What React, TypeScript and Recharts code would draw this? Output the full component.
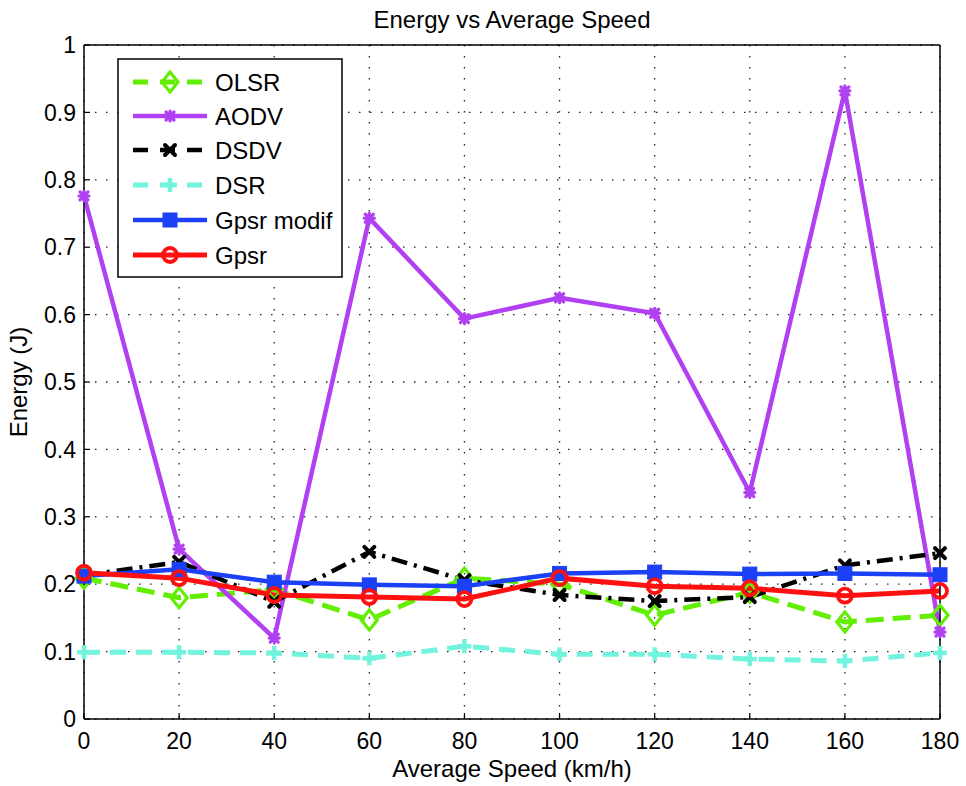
import { LineChart, Line, XAxis, YAxis, CartesianGrid } from 'recharts';

const speeds = [0, 20, 40, 60, 80, 100, 120, 140, 160, 180];
const olsr = [0.209, 0.18, 0.192, 0.147, 0.209, 0.2, 0.154, 0.188, 0.144, 0.154];
const aodv = [0.776, 0.252, 0.12, 0.743, 0.594, 0.625, 0.602, 0.336, 0.932, 0.129];
const dsdv = [0.213, 0.233, 0.174, 0.248, 0.206, 0.184, 0.175, 0.181, 0.228, 0.246];
const dsr = [0.099, 0.099, 0.098, 0.09, 0.108, 0.096, 0.096, 0.089, 0.086, 0.098];
const gpsrModif = [0.212, 0.222, 0.203, 0.199, 0.197, 0.216, 0.218, 0.215, 0.216, 0.214];
const gpsr = [0.217, 0.209, 0.184, 0.181, 0.178, 0.209, 0.197, 0.194, 0.183, 0.19];

const xTicks = [0, 20, 40, 60, 80, 100, 120, 140, 160, 180];
const yTicks = [0, 0.1, 0.2, 0.3, 0.4, 0.5, 0.6, 0.7, 0.8, 0.9, 1];

const data = speeds.map((s, i) => ({
  speed: s,
  olsr: olsr[i],
  aodv: aodv[i],
  dsdv: dsdv[i],
  dsr: dsr[i],
  gpsrModif: gpsrModif[i],
  gpsr: gpsr[i],
}));

const FONT = '"Liberation Sans", Arial, Helvetica, sans-serif';

type Kind = 'diamond' | 'star' | 'x' | 'plus' | 'square' | 'circle';

const series: { key: string; name: string; color: string; width: number; dash?: string; marker: Kind }[] = [
  { key: 'olsr', name: 'OLSR', color: '#62ee00', width: 5, dash: '18 9', marker: 'diamond' },
  { key: 'aodv', name: 'AODV', color: '#b040f2', width: 4.5, marker: 'star' },
  { key: 'dsdv', name: 'DSDV', color: '#000000', width: 4.5, dash: '16 7 3 7', marker: 'x' },
  { key: 'dsr', name: 'DSR', color: '#72f3dd', width: 5, dash: '16 10', marker: 'plus' },
  { key: 'gpsrModif', name: 'Gpsr modif', color: '#1c40f6', width: 4.5, marker: 'square' },
  { key: 'gpsr', name: 'Gpsr', color: '#ff1010', width: 5, marker: 'circle' },
];

function Marker({ kind, cx, cy, color }: { kind: Kind; cx: number; cy: number; color: string }) {
  if (cx == null || cy == null) return null;
  const common = { stroke: color, strokeDasharray: 'none', strokeLinecap: 'round' as const };
  switch (kind) {
    case 'diamond':
      return (
        <path
          d={`M${cx},${cy - 10} L${cx + 8},${cy} L${cx},${cy + 10} L${cx - 8},${cy} Z`}
          fill="none"
          strokeWidth={3.2}
          {...common}
        />
      );
    case 'star':
      return (
        <g {...common} strokeWidth={3.2}>
          <line x1={cx - 5} y1={cy} x2={cx + 5} y2={cy} />
          <line x1={cx} y1={cy - 5} x2={cx} y2={cy + 5} />
          <line x1={cx - 4} y1={cy - 4} x2={cx + 4} y2={cy + 4} />
          <line x1={cx - 4} y1={cy + 4} x2={cx + 4} y2={cy - 4} />
        </g>
      );
    case 'x':
      return (
        <g {...common} strokeWidth={4}>
          <line x1={cx - 5} y1={cy - 5} x2={cx + 5} y2={cy + 5} />
          <line x1={cx - 5} y1={cy + 5} x2={cx + 5} y2={cy - 5} />
        </g>
      );
    case 'plus':
      return (
        <g {...common} strokeWidth={4.5} strokeLinecap="butt">
          <line x1={cx - 7} y1={cy} x2={cx + 7} y2={cy} />
          <line x1={cx} y1={cy - 7} x2={cx} y2={cy + 7} />
        </g>
      );
    case 'square':
      return <rect x={cx - 7} y={cy - 7} width={14} height={14} fill={color} stroke={color} strokeWidth={1} />;
    case 'circle':
      return <circle cx={cx} cy={cy} r={7} fill="none" stroke={color} strokeWidth={3.8} />;
  }
  return null;
}

function LegendBox() {
  const rows = [23, 57, 91, 126, 161, 196];
  return (
    <svg
      width={226}
      height={220}
      style={{ position: 'absolute', left: 117, top: 58 }}
    >
      <rect x={1} y={1} width={224} height={218} fill="#fff" stroke="#000" strokeWidth={1.5} />
      {series.map((s, i) => (
        <g key={s.key}>
          <line
            x1={16}
            x2={90}
            y1={rows[i] + 1}
            y2={rows[i] + 1}
            stroke={s.color}
            strokeWidth={s.width}
            strokeDasharray={s.dash ? '15 12' : undefined}
          />
          <Marker kind={s.marker} cx={53} cy={rows[i] + 1} color={s.color} />
          <text x={98} y={rows[i] + 9.5} fontSize={24} fontFamily={FONT} fill="#000">
            {s.name}
          </text>
        </g>
      ))}
    </svg>
  );
}

const tickStyle = { fill: '#000', fontSize: 23, fontFamily: FONT };

export default function App() {
  return (
    <div style={{ position: 'absolute', left: 0, top: 0, width: 966, height: 786, background: '#fff' }}>
      <div
        style={{
          position: 'absolute',
          left: 0,
          top: 8,
          width: 1024,
          textAlign: 'center',
          fontSize: 24,
          lineHeight: '24px',
          fontFamily: FONT,
          color: '#000',
        }}
      >
        Energy vs Average Speed
      </div>
      <LineChart
        width={966}
        height={786}
        data={data}
        margin={{ top: 15, right: 0, bottom: 27, left: 0 }}
        style={{ fontFamily: FONT }}
      >
        <CartesianGrid stroke="#222" strokeWidth={1.3} strokeDasharray="1.5 9.5" />
        <XAxis
          dataKey="speed"
          type="number"
          domain={[0, 180]}
          ticks={xTicks}
          height={40}
          tick={tickStyle}
          tickSize={-6}
          tickMargin={20}
          axisLine={{ stroke: '#000', strokeWidth: 1.5 }}
          tickLine={{ stroke: '#000', strokeWidth: 1.2 }}
          label={{
            content: (p: any) => (
              <text
                x={p.viewBox.x + p.viewBox.width / 2}
                y={777}
                textAnchor="middle"
                fontSize={24}
                fontFamily={FONT}
                fill="#000"
              >
                Average Speed (km/h)
              </text>
            ),
          }}
        />
        <XAxis
          xAxisId="top"
          orientation="top"
          dataKey="speed"
          type="number"
          domain={[0, 180]}
          ticks={xTicks}
          height={30}
          tick={false}
          tickSize={-6}
          axisLine={{ stroke: '#000', strokeWidth: 1.5 }}
          tickLine={{ stroke: '#000', strokeWidth: 1.2 }}
        />
        <YAxis
          type="number"
          domain={[0, 1]}
          ticks={yTicks}
          width={84}
          tick={tickStyle}
          tickSize={-6}
          tickMargin={14}
          tickFormatter={(v: number) => String(Math.round(v * 10) / 10)}
          axisLine={{ stroke: '#000', strokeWidth: 1.5 }}
          tickLine={{ stroke: '#000', strokeWidth: 1.2 }}
          label={{
            content: (p: any) => {
              const cy = p.viewBox.y + p.viewBox.height / 2;
              return (
                <text
                  x={27}
                  y={cy}
                  transform={`rotate(-90, 27, ${cy})`}
                  textAnchor="middle"
                  fontSize={24}
                  fontFamily={FONT}
                  fill="#000"
                >
                  Energy (J)
                </text>
              );
            },
          }}
        />
        <YAxis
          yAxisId="right"
          orientation="right"
          type="number"
          domain={[0, 1]}
          ticks={yTicks}
          width={26}
          tick={false}
          tickSize={-6}
          axisLine={{ stroke: '#000', strokeWidth: 1.5 }}
          tickLine={{ stroke: '#000', strokeWidth: 1.2 }}
        />
        {series.map((s) => (
          <Line
            key={s.key}
            dataKey={s.key}
            name={s.name}
            type="linear"
            stroke={s.color}
            strokeWidth={s.width}
            strokeDasharray={s.dash}
            isAnimationActive={false}
            dot={(p: any) => <Marker key={`${s.key}-${p.index}`} kind={s.marker} cx={p.cx} cy={p.cy} color={s.color} />}
            activeDot={false}
          />
        ))}
      </LineChart>
      <LegendBox />
    </div>
  );
}
